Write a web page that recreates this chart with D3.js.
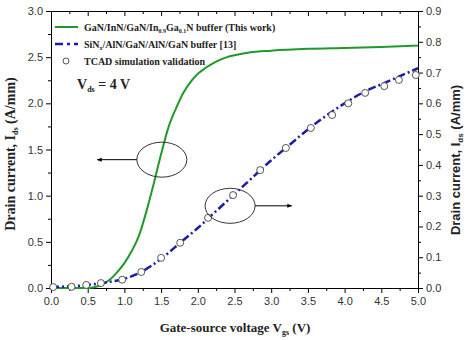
<!DOCTYPE html>
<html>
<head>
<meta charset="utf-8">
<script src="https://cdn.jsdelivr.net/npm/d3@7"></script>
<style>
  body { margin: 0; background: #fff; }
  .tick text { font-family: Arial, "Liberation Sans", sans-serif; font-size: 11px; fill: #333; }
  .domain, .tick line { stroke: #000; }
  .serif { font-family: "Liberation Serif", "Times New Roman", serif; font-weight: bold; }
</style>
</head>
<body>
<div id="chart"></div>
<script>
// gate-source voltage (V) vs drain current, this work (left axis, A/mm)
var greenV = [0, 0.5, 0.6, 0.7, 0.8, 0.9, 1.0, 1.1, 1.2, 1.3, 1.4, 1.5, 1.6, 1.7, 1.8, 1.9, 2.0, 2.1, 2.2, 2.3, 2.4, 2.5, 2.7, 3.0, 3.5, 4.0, 4.5, 5.0]
var greenI = [0, 0, 0.01, 0.04, 0.09, 0.17, 0.27, 0.40, 0.57, 0.83, 1.13, 1.45, 1.74, 1.94, 2.11, 2.23, 2.32, 2.38, 2.43, 2.47, 2.50, 2.52, 2.55, 2.57, 2.59, 2.60, 2.61, 2.625]

// reference [13] (right axis, A/mm)
var blueV = [0, 0.5, 0.75, 1.0, 1.25, 1.5, 1.75, 2.0, 2.25, 2.5, 2.75, 3.0, 3.25, 3.5, 3.75, 4.0, 4.25, 4.5, 4.75, 5.0]
var blueI = [0.003, 0.01, 0.018, 0.03, 0.055, 0.095, 0.145, 0.195, 0.25, 0.305, 0.36, 0.415, 0.465, 0.515, 0.56, 0.60, 0.635, 0.662, 0.688, 0.714]

// TCAD validation points (right axis)
var tcadV = [0.03, 0.28, 0.48, 0.68, 0.97, 1.23, 1.50, 1.76, 2.14, 2.48, 2.85, 3.2, 3.54, 3.83, 4.05, 4.28, 4.54, 4.74, 4.97]
var tcadI = [0.003, 0.004, 0.01, 0.016, 0.027, 0.052, 0.098, 0.147, 0.228, 0.302, 0.383, 0.455, 0.52, 0.562, 0.60, 0.634, 0.656, 0.676, 0.692]

var xTicks = [0, 0.5, 1, 1.5, 2, 2.5, 3, 3.5, 4, 4.5, 5]
var leftTicks = [0, 0.5, 1, 1.5, 2, 2.5, 3]
var rightTicks = [0, 0.1, 0.2, 0.3, 0.4, 0.5, 0.6, 0.7, 0.8, 0.9]

// annotation ellipses: [centre V, centre I (left units), arrow tip V]
var ellipseGreen = [1.51, 1.39, 0.63]
var ellipseBlue = [2.44, 0.89, 3.28]

var margin = { top: 11, right: 49, bottom: 52, left: 51 }
var width = 467 - margin.left - margin.right
var height = 340 - margin.top - margin.bottom

var svg = d3.select('#chart').append('svg')
    .attr('width', 467)
    .attr('height', 340)

var g = svg.append('g')
    .attr('transform', 'translate(' + margin.left + ',' + margin.top + ')')

var x = d3.scaleLinear().domain([0, 5]).range([0, width])
var yL = d3.scaleLinear().domain([0, 3]).range([height, 0])
var yR = d3.scaleLinear().domain([0, 0.9]).range([height, 0])

var fmt1 = d3.format('.1f')

// minor ticks first
g.append('g').attr('transform', 'translate(0,' + height + ')')
    .call(d3.axisBottom(x).tickValues(d3.range(0.25, 5, 0.5)).tickSize(3).tickFormat(''))
g.append('g')
    .call(d3.axisBottom(x).tickValues(d3.range(0.25, 5, 0.5)).tickSize(3).tickFormat(''))
g.append('g')
    .call(d3.axisLeft(yL).tickValues(d3.range(0.25, 3, 0.5)).tickSize(3).tickFormat(''))
g.append('g').attr('transform', 'translate(' + width + ',0)')
    .call(d3.axisRight(yR).tickValues(d3.range(0.05, 0.9, 0.1)).tickSize(3).tickFormat(''))

g.append('g').attr('transform', 'translate(0,' + height + ')')
    .call(d3.axisBottom(x).tickValues(xTicks).tickSize(5).tickPadding(4).tickFormat(fmt1))
g.append('g')
    .call(d3.axisBottom(x).tickValues(xTicks).tickSize(5).tickFormat(''))
g.append('g')
    .call(d3.axisLeft(yL).tickValues(leftTicks).tickSize(5).tickPadding(3).tickFormat(fmt1))
g.append('g').attr('transform', 'translate(' + width + ',0)')
    .call(d3.axisRight(yR).tickValues(rightTicks).tickSize(5).tickPadding(3).tickFormat(fmt1))

// curves
var greenData = greenV.map(function (v, i) { return [v, greenI[i]] })
var blueData = blueV.map(function (v, i) { return [v, blueI[i]] })
var tcadData = tcadV.map(function (v, i) { return [v, tcadI[i]] })

g.append('path')
    .datum(greenData)
    .attr('fill', 'none')
    .attr('stroke', '#1f9a2a')
    .attr('stroke-width', 2)
    .attr('d', d3.line().curve(d3.curveMonotoneX)
        .x(function (d) { return x(d[0]) })
        .y(function (d) { return yL(d[1]) }))

g.append('path')
    .datum(blueData)
    .attr('fill', 'none')
    .attr('stroke', '#1c1ca8')
    .attr('stroke-width', 2.5)
    .attr('stroke-dasharray', '8,3,2,3')
    .attr('d', d3.line().curve(d3.curveMonotoneX)
        .x(function (d) { return x(d[0]) })
        .y(function (d) { return yR(d[1]) }))

g.selectAll('.tcad')
    .data(tcadData)
    .enter().append('circle')
    .attr('class', 'tcad')
    .attr('cx', function (d) { return x(d[0]) })
    .attr('cy', function (d) { return yR(d[1]) })
    .attr('r', 3.5)
    .attr('fill', '#fff')
    .attr('stroke', '#444')
    .attr('stroke-width', 0.9)

// ellipses with arrows
svg.append('defs').append('marker')
    .attr('id', 'arrow')
    .attr('viewBox', '0 0 10 10')
    .attr('refX', 9).attr('refY', 5)
    .attr('markerWidth', 7).attr('markerHeight', 5)
    .attr('orient', 'auto')
    .append('path').attr('d', 'M0,1L10,5L0,9Z').attr('fill', '#000')

var ellipses = [ellipseGreen, ellipseBlue]
ellipses.forEach(function (e, i) {
    var cx = x(e[0]), cy = yL(e[1])
    g.append('ellipse')
        .attr('cx', cx).attr('cy', cy)
        .attr('rx', 25).attr('ry', 17.5)
        .attr('fill', 'none')
        .attr('stroke', '#333')
        .attr('stroke-width', 1)
    var start = i === 0 ? cx - 25 : cx + 25
    g.append('line')
        .attr('x1', start).attr('y1', cy)
        .attr('x2', x(e[2])).attr('y2', cy)
        .attr('stroke', '#000')
        .attr('stroke-width', 1)
        .attr('marker-end', 'url(#arrow)')
})

// legend
var legend = g.append('g').attr('class', 'serif').style('font-size', '10px').attr('fill', '#222')

legend.append('line')
    .attr('x1', 4).attr('x2', 27).attr('y1', 16).attr('y2', 16)
    .attr('stroke', '#1f9a2a').attr('stroke-width', 2)
var t1 = legend.append('text').attr('x', 33).attr('y', 19.5)
t1.append('tspan').text('GaN/InN/GaN/In')
t1.append('tspan').attr('dy', 2).style('font-size', '6px').text('0.9')
t1.append('tspan').attr('dy', -2).text('Ga')
t1.append('tspan').attr('dy', 2).style('font-size', '6px').text('0.1')
t1.append('tspan').attr('dy', -2).text('N buffer (This work)')

legend.append('line')
    .attr('x1', 4).attr('x2', 27).attr('y1', 33).attr('y2', 33)
    .attr('stroke', '#1c1ca8').attr('stroke-width', 2.5)
    .attr('stroke-dasharray', '8,4,3,4')
var t2 = legend.append('text').attr('x', 33).attr('y', 36.5)
t2.append('tspan').text('SiN')
t2.append('tspan').attr('dy', 2).style('font-size', '6px').text('x')
t2.append('tspan').attr('dy', -2).text('/AlN/GaN/AlN/GaN buffer [13]')

legend.append('circle')
    .attr('cx', 15).attr('cy', 50).attr('r', 3)
    .attr('fill', '#fff').attr('stroke', '#444').attr('stroke-width', 0.9)
legend.append('text').attr('x', 33).attr('y', 53.5).text('TCAD simulation validation')

var vds = g.append('text').attr('class', 'serif')
    .attr('x', 26).attr('y', 78)
    .style('font-size', '14px').attr('fill', '#222')
vds.append('tspan').text('V')
vds.append('tspan').attr('dy', 3).style('font-size', '8px').text('ds')
vds.append('tspan').attr('dy', -3).text(' = 4 V')

// axis titles
var xt = svg.append('text').attr('class', 'serif')
    .attr('x', 235).attr('y', 332)
    .attr('text-anchor', 'middle')
    .style('font-size', '13px').attr('fill', '#222')
xt.append('tspan').text('Gate-source voltage V')
xt.append('tspan').attr('dy', 3).style('font-size', '8px').text('gs')
xt.append('tspan').attr('dy', -3).text(' (V)')

var lt = svg.append('text').attr('class', 'serif')
    .attr('transform', 'translate(15,154) rotate(-90)')
    .attr('text-anchor', 'middle')
    .style('font-size', '14px').attr('fill', '#222')
lt.append('tspan').text('Drain current, I')
lt.append('tspan').attr('dy', 3).style('font-size', '8px').text('ds')
lt.append('tspan').attr('dy', -3).text(' (A/mm)')

var rt = svg.append('text')
    .attr('transform', 'translate(460,160) rotate(-90)')
    .attr('text-anchor', 'middle')
    .style('font-family', 'Arial, "Liberation Sans", sans-serif')
    .style('font-weight', 'bold')
    .style('font-size', '13px').attr('fill', '#222')
rt.append('tspan').text('Drain current, I')
rt.append('tspan').attr('dy', 3).style('font-size', '8px').text('ds')
rt.append('tspan').attr('dy', -3).text(' (A/mm)')
</script>
</body>
</html>
